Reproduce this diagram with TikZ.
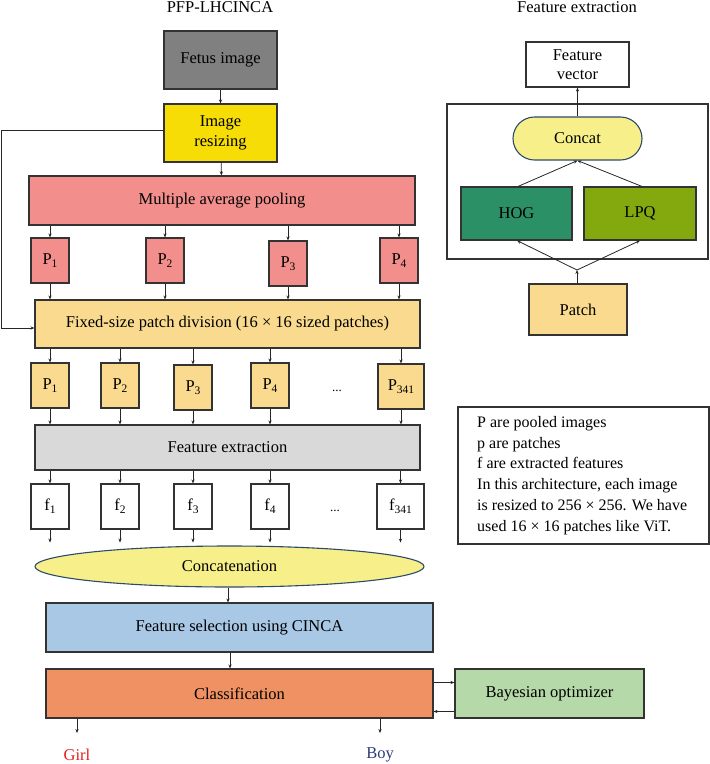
\documentclass[tikz,border=0pt]{standalone}
\usepackage{fontspec}
\setmainfont{Liberation Serif}
\usetikzlibrary{arrows.meta,shapes.geometric,shapes.misc}
\definecolor{cgray}{HTML}{808080}
\definecolor{cyell}{HTML}{F6DD06}
\definecolor{cpink}{HTML}{F28E8B}
\definecolor{corng}{HTML}{F9DA8E}
\definecolor{clgray}{HTML}{D9D9D9}
\definecolor{cconc}{HTML}{F7F08A}
\definecolor{cnavy}{HTML}{2E4A6B}
\definecolor{cblue}{HTML}{A9C8E6}
\definecolor{cclass}{HTML}{F09163}
\definecolor{cbayes}{HTML}{B5D9A8}
\definecolor{chog}{HTML}{2C9066}
\definecolor{clpq}{HTML}{83A90F}
\definecolor{cgirl}{HTML}{E02020}
\definecolor{cboy}{HTML}{2B3A7A}
\newcommand{\mysub}[1]{\raisebox{-0.35ex}{\fontsize{11.5}{11.5}\selectfont #1}}
\tikzset{
  blk/.style={draw=black!80, line width=1.1pt, inner sep=0pt, align=center, font=\fontsize{16.5}{19.5}\selectfont},
  arr/.style={-{Stealth[length=4pt,width=3.2pt]}, line width=0.8pt, black!85},
}
\begin{document}
\begin{tikzpicture}[x=1pt,y=-1pt]
\useasboundingbox (0,0) rectangle (710,764);
% titles
\node[font=\fontsize{16.5}{19}\selectfont] (t1) at (220,7) {PFP-LHCINCA};
\node[font=\fontsize{16.5}{19}\selectfont] (t2) at (577,7) {Feature extraction};
% main column
\node[blk, fill=cgray, minimum width=113pt, minimum height=58pt] (fetus) at (220.5,60) {Fetus image};
\node[blk, fill=cyell, minimum width=113pt, minimum height=58pt] (resize) at (220.5,133) {Image\\resizing};
\node[blk, fill=cpink, minimum width=386pt, minimum height=49pt] (pool) at (222,200.5) {Multiple average pooling};
\node[blk, fill=cpink, minimum width=38pt, minimum height=45pt] (q1) at (50,260.5) {P\mysub{1}};
\node[blk, fill=cpink, minimum width=38pt, minimum height=45pt] (q2) at (165,260.5) {P\mysub{2}};
\node[blk, fill=cpink, minimum width=38pt, minimum height=45pt] (q3) at (288,263.5) {P\mysub{3}};
\node[blk, fill=cpink, minimum width=38pt, minimum height=45pt] (q4) at (399,260.5) {P\mysub{4}};
\node[blk, fill=corng, minimum width=385pt, minimum height=48pt] (fixed) at (227.5,324) {Fixed-size patch division (16 × 16 sized patches)};
\node[blk, fill=corng, minimum width=38pt, minimum height=45pt] (p1) at (50,385.5) {P\mysub{1}};
\node[blk, fill=corng, minimum width=38pt, minimum height=45pt] (p2) at (120,385.5) {P\mysub{2}};
\node[blk, fill=corng, minimum width=38pt, minimum height=45pt] (p3) at (193,387.5) {P\mysub{3}};
\node[blk, fill=corng, minimum width=38pt, minimum height=45pt] (p4) at (270,385.5) {P\mysub{4}};
\node[blk, fill=corng, minimum width=46pt, minimum height=45pt] (p5) at (401,386.5) {P\mysub{341}};
\node[font=\fontsize{13}{13}\selectfont] (dots1) at (337,391) {...};
\node[blk, fill=clgray, minimum width=385pt, minimum height=45pt] (feat) at (227.5,447.5) {Feature extraction};
\node[blk, fill=white, minimum width=38pt, minimum height=45pt] (f1) at (50,506.5) {f\mysub{1}};
\node[blk, fill=white, minimum width=38pt, minimum height=45pt] (f2) at (120,506.5) {f\mysub{2}};
\node[blk, fill=white, minimum width=38pt, minimum height=45pt] (f3) at (193,506.5) {f\mysub{3}};
\node[blk, fill=white, minimum width=38pt, minimum height=45pt] (f4) at (270,506.5) {f\mysub{4}};
\node[blk, fill=white, minimum width=47pt, minimum height=45pt] (f5) at (400.5,506.5) {f\mysub{341}};
\node[font=\fontsize{13}{13}\selectfont] (dots2) at (335,511) {...};
\node[blk, ellipse, draw=cnavy, fill=cconc, minimum width=389pt, minimum height=41pt] (concat) at (229.5,566.5) {Concatenation};
\node[blk, fill=cblue, minimum width=387pt, minimum height=49pt] (fsel) at (239.5,627.5) {Feature selection using CINCA};
\node[blk, fill=cclass, minimum width=387pt, minimum height=49pt] (class) at (239.5,693.5) {Classification};
\node[blk, fill=cbayes, minimum width=189pt, minimum height=49pt] (bayes) at (549.5,693.5) {Bayesian optimizer};
\node[font=\fontsize{16.5}{19}\selectfont, text=cgirl] (girl) at (77,755) {Girl};
\node[font=\fontsize{16.5}{19}\selectfont, text=cboy] (boy) at (380,755) {Boy};
\coordinate (g0) at (77,733);
\coordinate (b0) at (380,733);
% main connectors
\draw[arr] (fetus) -- (resize);
\draw[arr] (resize) -- (pool);
\foreach \n in {q1,q2,q3,q4}{
  \draw[arr] (pool.south -| \n) -- (\n.north);
  \draw[arr] (\n.south) -- (fixed.north -| \n);
}
\foreach \n in {p1,p2,p3,p4,p5}{
  \draw[arr] (fixed.south -| \n) -- (\n.north);
  \draw[arr] (\n.south) -- (feat.north -| \n);
}
\foreach \n in {f1,f2,f3,f4,f5}{
  \draw[arr] (feat.south -| \n) -- (\n.north);
  \draw[arr] (\n.south) -- ++(0,-13pt);
}
\coordinate (fbA) at (1,130);
\coordinate (fbB) at (1,328);
\draw[arr] ([yshift=3pt]resize.west) -- (fbA) -- (fbB) -- ([yshift=-4pt]fixed.west);
\draw[arr] (concat.south -| 228,0) -- (fsel.north -| 228,0);
\draw[arr] (fsel.south -| 230,0) -- (class.north -| 230,0);
\draw[arr] ([yshift=11pt]class.east) -- ([yshift=11pt]bayes.west);
\draw[arr] ([yshift=-18pt]bayes.west) -- ([yshift=-18pt]class.east);
\draw[arr] (class.south -| g0) -- (g0);
\draw[arr] (class.south -| b0) -- (b0);
% right: feature extraction detail
\node[draw=black!80, line width=1.1pt, minimum width=261pt, minimum height=155pt, inner sep=0pt] (outer) at (577.5,181.5) {};
\node[blk, fill=white, minimum width=103pt, minimum height=45pt] (fvec) at (577.5,64.5) {Feature\\vector};
\node[blk, rounded rectangle, draw=cnavy, fill=cconc, minimum width=129pt, minimum height=43pt] (concat2) at (577.5,138.5) {Concat};
\node[blk, fill=chog, minimum width=111pt, minimum height=53pt] (hog) at (516.5,213.5) {HOG};
\node[blk, fill=clpq, minimum width=112pt, minimum height=53pt] (lpq) at (640,213.5) {LPQ};
\node[blk, fill=corng, minimum width=98pt, minimum height=51pt] (patch) at (578,309.5) {Patch};
\coordinate (junc) at (577,270);
\draw[arr] (concat2.north) -- (fvec.south);
\draw[arr] (hog.north -| 518,0) -- (concat2.south);
\draw[arr] (lpq.north -| 642,0) -- (concat2.south);
\draw[arr] (patch.north -| junc) -- (junc);
\draw[arr] (junc) -- (hog.south -| 517,0);
\draw[arr] (junc) -- (lpq.south -| 640,0);
% notes
\node[draw=black!80, line width=1.1pt, minimum width=251pt, minimum height=137pt, inner sep=0pt] (notesbox) at (583.5,475.5) {};
\node[anchor=north west, align=left, inner sep=0pt, font=\fontsize{16}{20.8}\selectfont] (notes) at (477,416) {P are pooled images\\p are patches\\f are extracted features\\In this architecture, each image\\is resized to 256 × 256. We have\\used 16 × 16 patches like ViT.};
\end{tikzpicture}
\end{document}
